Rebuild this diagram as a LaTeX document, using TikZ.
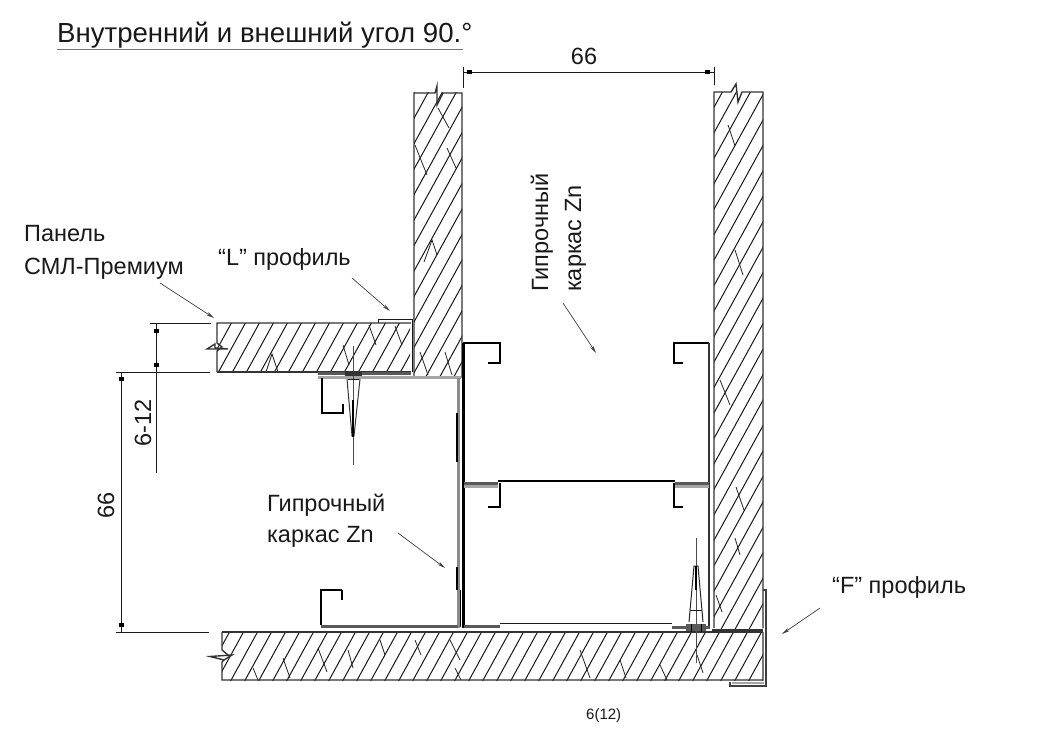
\documentclass[tikz,border=0pt]{standalone}
\usepackage{fontspec}
\setmainfont{Liberation Sans}
\usetikzlibrary{arrows.meta}
\tikzset{
  label/.style={inner sep=0pt,anchor=base west,font=\fontsize{23.5}{28}\selectfont,text=black!90},
  edge/.style={line width=1.4pt,black!80},
  thin line/.style={line width=1pt,black!90},
  hatchline/.style={line width=1pt,black!90},
  grain/.style={line width=0.8pt,black!85},
  dark/.style={line width=2pt,black},
  grey bar/.style={line width=3pt,black!65},
  pale bar/.style={line width=2.4pt,black!35},
  leader/.style={line width=0.7pt,black!75,-{Stealth[length=8pt,width=3.5pt]}},
  tick/.style={fill=black,minimum width=5pt,minimum height=4pt,inner sep=0pt,draw=none},
}
\newcommand{\hatchbox}[4]{%
  \begin{scope}
    \clip (#1,#2) rectangle (#3,#4);
    \foreach \k in {-400,-386,...,1060}
      \draw[hatchline] (\k,733) -- ({\k+403},0);
  \end{scope}}
\begin{document}
\begin{tikzpicture}[x=1pt,y=-1pt]
\useasboundingbox (0,0) rectangle (1057,733);
\fill[white] (0,0) rectangle (1057,733);

% title
\node[label,font=\fontsize{27.6}{32}\selectfont] (title) at (57,43) {Внутренний и внешний угол 90.°};
\draw[line width=1.6pt,black!55] (57,49.5) -- (463,49.5);

% hatched panels
\hatchbox{414}{93}{462}{376}
\hatchbox{714}{93}{763}{628}
\hatchbox{217}{323}{410}{372}
\hatchbox{222}{632}{763}{680}

% grain
\draw[grain] (438,108) -- (449,128);
\draw[grain] (415,145) -- (427,175);
\draw[grain] (447,148) -- (456,168);
\draw[grain] (424,262) -- (432,240) -- (437,255);
\draw[grain] (420,352) -- (428,375);
\draw[grain] (445,352) -- (452,375);
\draw[grain] (728,125) -- (735,146);
\draw[grain] (735,250) -- (743,275);
\draw[grain] (720,380) -- (730,405);
\draw[grain] (736,487) -- (744,510);
\draw[grain] (735,538) -- (740,555);
\draw[grain] (716,595) -- (722,612);
\draw[grain] (343,345) -- (349,365);
\draw[grain] (266,372) -- (272,354) -- (278,372);
\draw[grain] (369,325) -- (376,345);
\draw[grain] (395,326) -- (402,345);
\draw[grain] (283,658) -- (290,678);
\draw[grain] (318,648) -- (327,672);
\draw[grain] (348,650) -- (353,668);
\draw[grain] (380,640) -- (385,655);
\draw[grain] (415,640) -- (421,655);
\draw[grain] (450,640) -- (460,660);
\draw[grain] (253,668) -- (258,680);
\draw[grain] (455,668) -- (461,680);
\draw[grain] (580,650) -- (590,678);
\draw[grain] (620,660) -- (626,678);
\draw[grain] (697,655) -- (703,673);
\draw[grain] (660,665) -- (667,680);

% panel outlines with breaks
\draw[edge] (217,372) -- (217,351) -- (222,347) -- (217,343) -- (217,323) -- (411,323);
\draw[edge] (217,372) -- (411,372);
\draw[edge] (414,378) -- (414,93) -- (435,93) -- (437,86) -- (437,105) -- (443,93) -- (462,93) -- (462,378);
\draw[edge] (714,628) -- (714,92) -- (731,92) -- (736,84) -- (738,102) -- (742,92) -- (763,92) -- (763,628);
\draw[edge] (222,632) -- (763,632);
\draw[edge] (222,632) -- (222,650) -- (228,655) -- (222,662) -- (222,680) -- (763,680) -- (763,632);
\draw[edge,fill=white] (210,656.5) -- (232,655) -- (224,660) -- cycle;
\draw[edge,fill=white] (207,349) -- (215,344) -- (215,348) -- (228,349) -- cycle;

% L profile
\draw[thin line] (378,323) -- (378,319) -- (412,319) -- (412,372);

% top base plate
\draw[grey bar] (318,373.5) -- (411,373.5);
\draw[pale bar] (318,377.5) -- (461,377.5);
% top-left C profile
\draw[line width=1.2pt] (322,378) -- (322,413) -- (343,413) -- (343,404);
\draw[line width=2.2pt] (343,410) -- (343,404);

% vertical double stud
\draw[line width=2.2pt] (463.5,343) -- (463.5,628);
\draw[line width=2.4pt,black!45] (458.5,378) -- (458.5,628);
\draw[line width=2.6pt] (457,413) -- (457,462);
\draw[line width=2.6pt] (457,567) -- (457,590);
\draw[line width=1.8pt] (460.5,590) -- (460.5,627);

% upper C profiles
\draw[dark] (463,343) -- (500,343) -- (500,363) -- (488,363);
\draw[dark] (709,343) -- (674,343) -- (674,363) -- (683,363);
% right stud line
\draw[line width=1.4pt,black!80] (709,343) -- (709,628);
% middle connection
\draw[dark] (498,481) -- (675,481);
\draw[grey bar] (464,483) -- (498,483);
\draw[grey bar] (675,483) -- (709,483);
\draw[pale bar] (464,486.5) -- (498,486.5);
\draw[pale bar] (675,486.5) -- (709,486.5);
\draw[dark] (500,483) -- (500,507) -- (488,507);
\draw[dark] (674,483) -- (674,507) -- (683,507);

% lower-left C profile
\draw[line width=1.2pt] (321,625) -- (321,590) -- (342,590);
\draw[line width=2.4pt] (342,590) -- (342,600);
\draw[grey bar] (321,626) -- (458,626);
\draw[grey bar] (464,626) -- (500,626);
\draw[thin line] (500,623) -- (672,623);
\draw[grey bar] (672,627) -- (710,627);

% F profile
\draw[line width=1.6pt,black!75] (763,590) -- (766,590) -- (766,686) -- (730,686) -- (730,682);
\draw[pale bar] (732,683) -- (764,683);
\draw[line width=2pt,black!80] (712,629.5) -- (763,629.5);

% screws
\coordinate (s1top) at (353,346);
\coordinate (s1end) at (353,465);
\draw[line width=0.7pt,black!70] (s1top) -- (s1end);
\draw[line width=1pt,black!80] (347,379) -- (352,436) -- (354,436) -- (360,379);
\draw[line width=1.6pt] (353,400) -- (353,437);
\fill[black!80] (345,371) rectangle (362,376);
\draw[thin line] (348,379) -- (359,379);
\coordinate (s2top) at (696,538);
\coordinate (s2end) at (696,663);
\draw[line width=0.7pt,black!70] (s2top) -- (s2end);
\draw[line width=1pt,black!85] (689,622) -- (694,566) -- (698,566) -- (703,622);
\draw[line width=2.4pt] (696,566) -- (696,590);
\draw[thin line] (690,610) -- (702,610);
\fill[black!65] (686,624) rectangle (706,631);
\draw[line width=.6pt] (691,624) -- (691,632) (701,624) -- (701,632);

% dimensions
\coordinate (dt1) at (463,67);
\coordinate (dt1b) at (463,88);
\coordinate (dt2) at (714,67);
\coordinate (dt2b) at (714,85);
\coordinate (dt1m) at (463,72.5);
\coordinate (dt2m) at (714,72.5);
\draw[thin line] (dt1) -- (dt1b);
\draw[thin line] (dt2) -- (dt2b);
\draw[thin line] (dt1m) -- (dt2m);
\node[tick] (ta) at (469.5,72.5) {};
\node[tick] (tb) at (707.5,72.5) {};
\node[label,anchor=base] (dim66a) at (584,65) {66};

\coordinate (h1a) at (150,323);
\coordinate (h1b) at (211,323);
\coordinate (h2a) at (116,372);
\coordinate (h2b) at (210,372);
\coordinate (h3a) at (116,632);
\coordinate (h3b) at (209,632);
\draw[thin line] (h1a) -- (h1b);
\draw[thin line] (h2a) -- (h2b);
\draw[thin line] (h3a) -- (h3b);
\coordinate (v1a) at (156,323);
\coordinate (v1b) at (156,473);
\draw[thin line] (v1a) -- (v1b);
\node[tick] (tc) at (156,331) {};
\node[tick] (td) at (156,365) {};
\coordinate (v2a) at (121,372);
\coordinate (v2b) at (121,632);
\draw[thin line] (v2a) -- (v2b);
\node[tick] (te) at (121,379) {};
\node[tick] (tf) at (121,625) {};
\node[label,rotate=90,anchor=base] (dim612) at (151,423) {6-12};
\node[label,rotate=90,anchor=base] (dim66b) at (114,505) {66};

% labels
\node[label] (panel1) at (24,241) {Панель};
\node[label] (panel2) at (24,274) {СМЛ-Премиум};
\node[label] (lprof) at (218,265) {“L” профиль};
\node[label,rotate=90,anchor=base west] (karkasA) at (548,292) {Гипрочный};
\node[label,rotate=90,anchor=base west] (karkasB) at (581,292) {каркас Zn};
\node[label] (karkasC) at (267,511) {Гипрочный};
\node[label] (karkasD) at (267,542) {каркас Zn};
\node[label] (fprof) at (832,593) {“F” профиль};
\node[label,font=\fontsize{15}{17}\selectfont] (page) at (586,719) {6(12)};

% leaders
\coordinate (la) at (160,283);
\coordinate (lb) at (214,318);
\coordinate (lc) at (352,278);
\coordinate (ld) at (390,311);
\coordinate (le) at (563,303);
\coordinate (lf) at (596,353);
\coordinate (lg) at (398,533);
\coordinate (lh) at (445,568);
\coordinate (li) at (820,608);
\coordinate (lj) at (782,634);
\draw[leader] (la) -- (lb);
\draw[leader] (lc) -- (ld);
\draw[leader] (le) -- (lf);
\draw[leader] (lg) -- (lh);
\draw[leader] (li) -- (lj);
\end{tikzpicture}
\end{document}
